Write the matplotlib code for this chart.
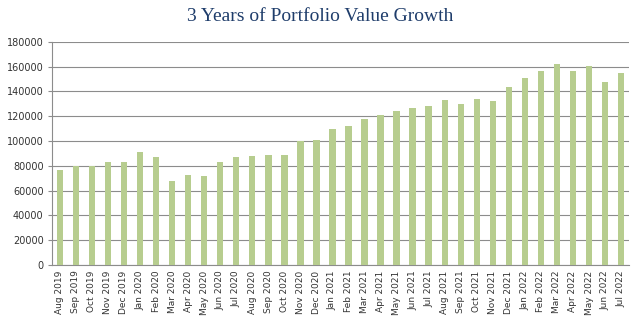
import matplotlib
matplotlib.use('Agg')
import matplotlib.pyplot as plt
import numpy as np

# Monthly portfolio values, Aug 2019 - Jul 2022
months = ['Aug 2019', 'Sep 2019', 'Oct 2019', 'Nov 2019', 'Dec 2019',
          'Jan 2020', 'Feb 2020', 'Mar 2020', 'Apr 2020', 'May 2020', 'Jun 2020',
          'Jul 2020', 'Aug 2020', 'Sep 2020', 'Oct 2020', 'Nov 2020', 'Dec 2020',
          'Jan 2021', 'Feb 2021', 'Mar 2021', 'Apr 2021', 'May 2021', 'Jun 2021',
          'Jul 2021', 'Aug 2021', 'Sep 2021', 'Oct 2021', 'Nov 2021', 'Dec 2021',
          'Jan 2022', 'Feb 2022', 'Mar 2022', 'Apr 2022', 'May 2022', 'Jun 2022',
          'Jul 2022']
values = [76500, 80000, 80000, 83500, 83000,
          91000, 87300, 68000, 72500, 72000, 83500,
          87300, 88100, 88700, 88700, 100000, 101000,
          110000, 112000, 118200, 121400, 124100, 126500,
          128400, 133000, 129800, 134300, 132400, 143700,
          151000, 156900, 162000, 156400, 160700, 147800,
          154800]
yticks = [0, 20000, 40000, 60000, 80000, 100000, 120000, 140000, 160000, 180000]

fig = plt.figure(figsize=(6.4, 3.3), dpi=100)
ax = fig.add_axes([0.081, 0.197, 0.902, 0.676])

x = np.arange(len(months))
ax.bar(x, values, width=0.4, color='#B7CD8F', zorder=3)

ax.set_xlim(-0.5, len(months) - 0.5)
ax.set_ylim(0, 180000)
ax.set_yticks(yticks)
ax.set_yticklabels([str(v) for v in yticks], fontsize=7, color='#333333')
ax.set_xticks(x)
ax.set_xticklabels(months, rotation=90, fontsize=6.5, color='#333333')

ax.grid(axis='y', color='#8C8C8C', linewidth=0.8, zorder=0)
for s in ['top', 'right']:
    ax.spines[s].set_visible(False)
for s in ['left', 'bottom']:
    ax.spines[s].set_color('#8C8C8C')
ax.tick_params(axis='x', length=0, pad=4)
ax.tick_params(axis='y', length=3, color='#8C8C8C', pad=3)

fig.suptitle('3 Years of Portfolio Value Growth', y=0.975, fontsize=14,
             family='Liberation Serif', color='#1F3D6B')

fig.savefig('out.png', dpi=100)
